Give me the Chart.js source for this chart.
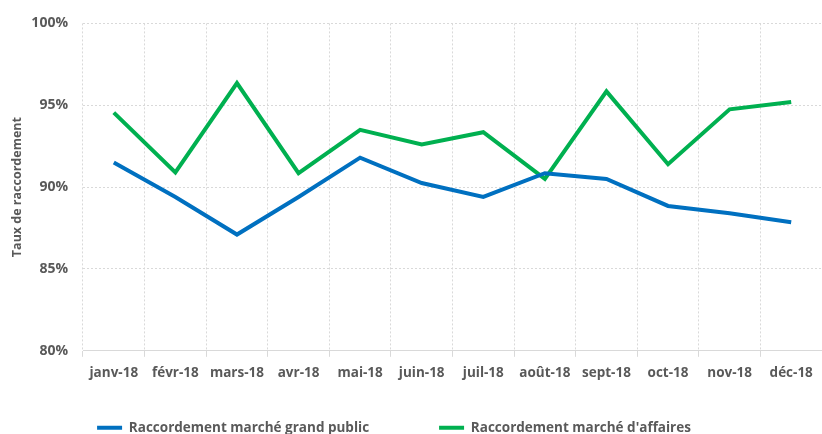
<!DOCTYPE html>
<html>
<head>
<meta charset="utf-8">
<script src="https://cdn.jsdelivr.net/npm/chart.js@4"></script>
<style>
  html, body { margin: 0; padding: 0; background: #fff; }
  #wrap { width: 822px; height: 434px; }
</style>
</head>
<body>
<div id="wrap"><canvas id="line"></canvas></div>
<script>
var mois = ['janv-18', 'févr-18', 'mars-18', 'avr-18', 'mai-18', 'juin-18',
            'juil-18', 'août-18', 'sept-18', 'oct-18', 'nov-18', 'déc-18'];

var grandPublic = [91.5, 89.4, 87.1, 89.4, 91.8, 90.25, 89.4, 90.85, 90.5, 88.85, 88.4, 87.85];
var affaires = [94.55, 90.9, 96.35, 90.85, 93.5, 92.6, 93.35, 90.5, 95.85, 91.4, 94.75, 95.2];

var graduations = [80, 85, 90, 95, 100];

var gris = '#595959';
var police = "'Open Sans', sans-serif";

// la légende est collée en bas, à moitié coupée comme sur l'original
var decalerLegende = {
    id: 'decalerLegende',
    afterLayout: function(chart) {
        var leg = chart.legend;
        leg.top -= 38;
        leg.bottom = chart.height + 40;
        leg.left -= 19;
        leg.right -= 19;
    }
};

var ctx = document.getElementById('line');

var chart = new Chart(ctx, {
    type: 'line',
    data: {
        labels: mois,
        datasets: [{
            label: 'Raccordement marché grand public',
            data: grandPublic,
            borderColor: '#0070C0',
            backgroundColor: '#0070C0',
            borderWidth: 4,
            pointRadius: 0,
            tension: 0
        }, {
            label: "Raccordement marché d'affaires",
            data: affaires,
            borderColor: '#00B050',
            backgroundColor: '#00B050',
            borderWidth: 4,
            pointRadius: 0,
            tension: 0
        }]
    },
    plugins: [decalerLegende],
    options: {
        responsive: true,
        maintainAspectRatio: false,
        animation: false,
        layout: { padding: { top: 12, right: 0, left: 4, bottom: 0 } },
        plugins: {
            tooltip: { enabled: false },
            legend: {
                position: 'bottom',
                maxHeight: 45,
                labels: {
                    usePointStyle: true,
                    pointStyle: 'line',
                    pointStyleWidth: 25,
                    boxHeight: 13,
                    padding: 70,
                    color: gris,
                    font: { family: police, size: 13.5, weight: 'bold' }
                }
            }
        },
        scales: {
            x: {
                offset: true,
                grid: {
                    offset: true,
                    color: '#d9d9d9',
                    tickLength: 6,
                    tickBorderDash: [],
                    tickColor: '#d9d9d9'
                },
                border: { display: true, color: '#d9d9d9', dash: [2, 2] },
                ticks: {
                    color: gris,
                    padding: 8,
                    maxRotation: 0,
                    autoSkip: false,
                    font: { family: police, size: 13.5, weight: 'bold' }
                }
            },
            y: {
                min: 80,
                max: 100,
                afterBuildTicks: function(axis) {
                    axis.ticks = graduations.map(function(v) { return { value: v }; });
                },
                afterFit: function(axis) {
                    axis.width = 79;
                },
                grid: { color: '#d9d9d9', drawTicks: false },
                border: { display: false, dash: [2, 2] },
                ticks: {
                    color: gris,
                    padding: 15,
                    font: { family: police, size: 14, weight: 'bold' },
                    callback: function(v) { return v + '%'; }
                },
                title: {
                    display: true,
                    text: 'Taux de raccordement',
                    color: gris,
                    padding: { top: 6, bottom: 0 },
                    font: { family: police, size: 12.5, weight: 'bold' }
                }
            }
        }
    }
});
</script>
</body>
</html>
